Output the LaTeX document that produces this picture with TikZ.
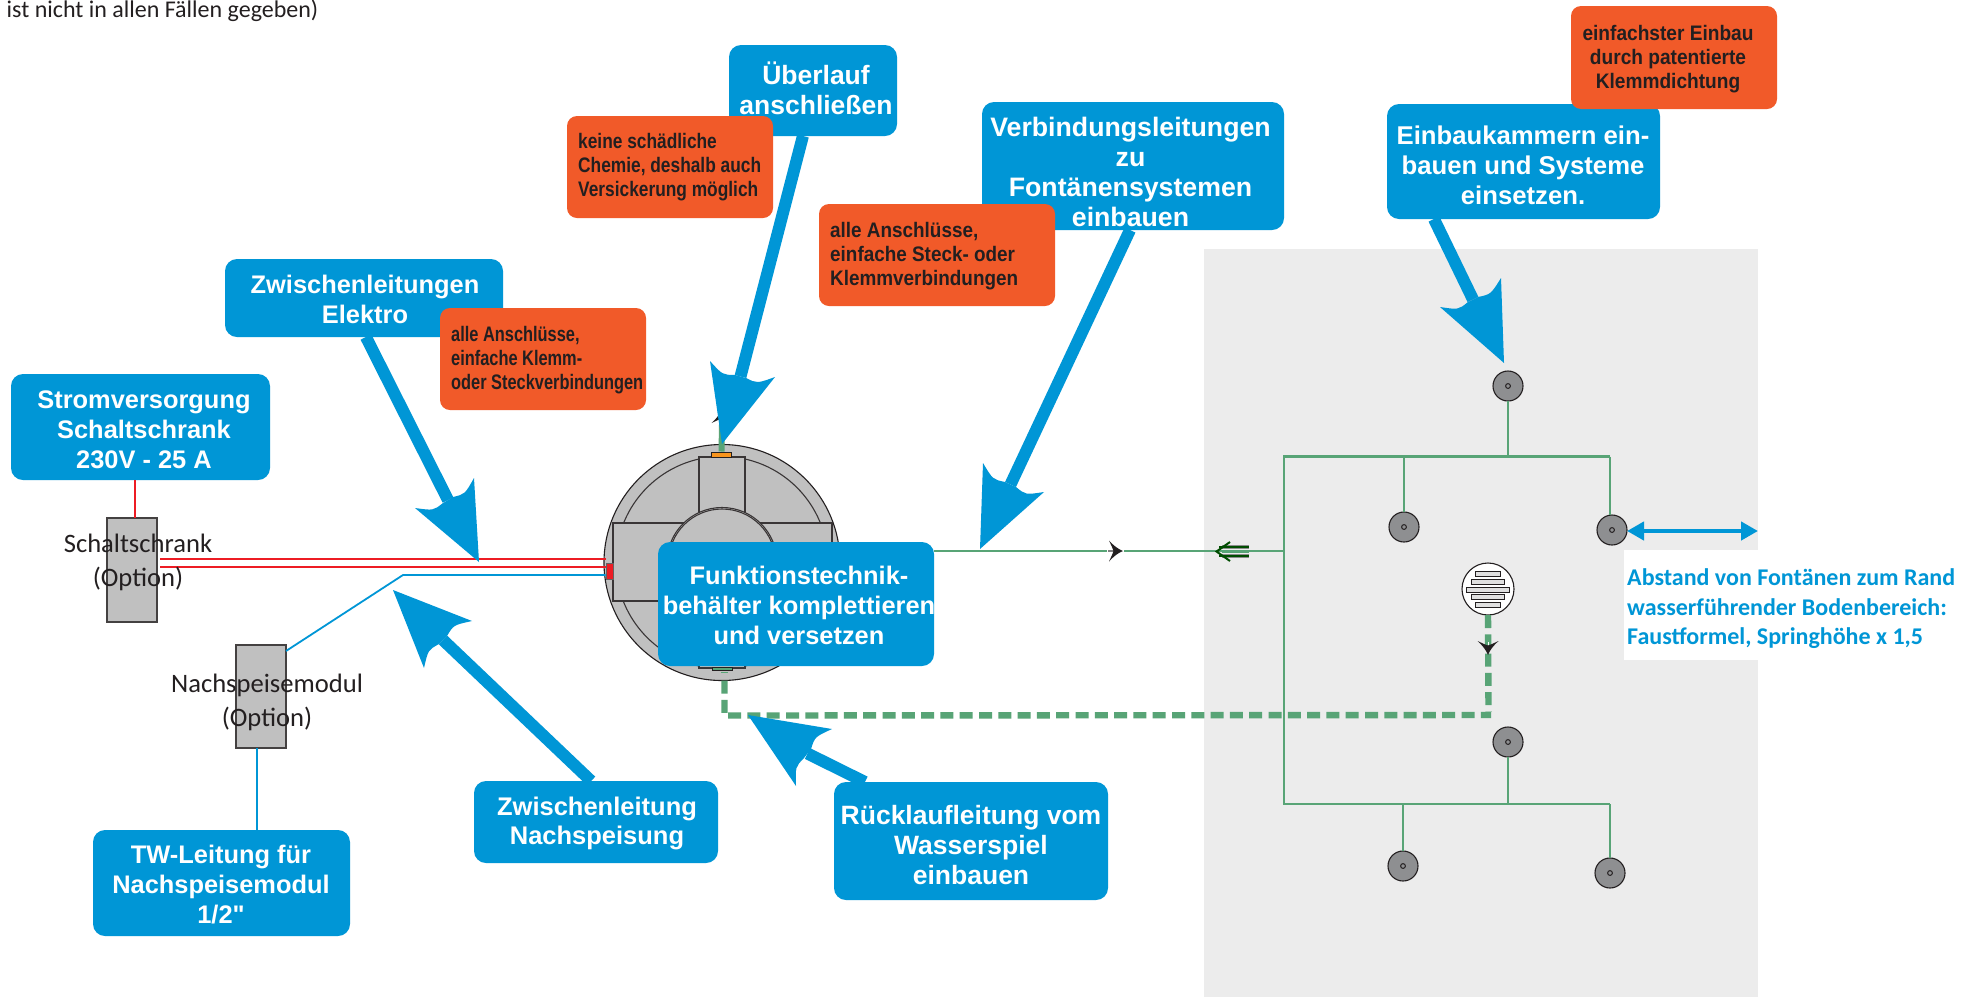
\documentclass[tikz,border=0pt]{standalone}
\usepackage{fontspec}
\usetikzlibrary{calc,arrows.meta}
\setmainfont{Liberation Sans}
\newfontfamily\plainsans{Liberation Sans}
\newfontfamily\ofa{Liberation Sans}[FakeStretch=0.825]
\newfontfamily\ofb{Liberation Sans}[FakeStretch=0.90]
\newfontfamily\ofc{Liberation Sans}[FakeStretch=0.91]
\newfontfamily\ofd{Liberation Sans}[FakeStretch=0.78]
\newfontfamily\calib{Carlito}
\definecolor{ablue}{HTML}{0096D6}
\definecolor{aorange}{HTML}{F15A29}
\definecolor{agreen}{HTML}{58A476}
\definecolor{apanel}{HTML}{ECECEC}
\definecolor{agray}{HTML}{C0C0C0}
\definecolor{afount}{HTML}{8E8F91}
\definecolor{adark}{HTML}{231F20}
\definecolor{ared}{HTML}{ED1C24}
\definecolor{aoran}{HTML}{F7941D}
\tikzset{
  spanbox/.style n args={4}{at={({(#1+#3)/2},{(#2+#4)/2})},minimum width={(#3-#1)*1pt},minimum height={(#4-#2)*1pt}},
  bluebox/.style={fill=ablue,rounded corners=12pt,inner sep=0pt,outer sep=0pt},
  orangebox/.style={fill=aorange,rounded corners=10pt,inner sep=0pt,outer sep=0pt},
  bluetext/.style={text=white,font=\bfseries\fontsize{25.4}{30}\selectfont,align=center,inner sep=0pt},
  orangetext/.style={text=adark,align=left,inner sep=0pt,anchor=west},
  plaintext/.style={text=adark,font=\calib\fontsize{26.6}{33.8}\selectfont,align=center,inner sep=0pt},
  modulebox/.style={fill=agray,draw=adark!85,line width=1.2pt,inner sep=0pt,outer sep=0pt},
  fountain/.style={circle,fill=afount,draw=adark,line width=1.1pt,minimum size=30pt,inner sep=0pt,outer sep=0pt},
  pipe/.style={draw=agreen,line width=2.9pt},
  returnpipe/.style={draw=agreen,line width=6.4pt,dash pattern=on 13pt off 6.3pt},
  redline/.style={draw=ared,line width=1.8pt},
  blueline/.style={draw=ablue,line width=1.8pt},
  shaft/.style={draw=ablue,line width=12pt},
  tankline/.style={draw=adark!90,line width=1.1pt},
}
\newcommand{\ofont}[1]{#1\bfseries\fontsize{21}{24}\selectfont}
\newcommand{\bigarrow}[7]{%
  \coordinate (#1-n1) at #3;
  \coordinate (#1-w1) at #4;
  \coordinate (#1-tip) at #5;
  \coordinate (#1-w2) at #6;
  \coordinate (#1-n2) at #7;
  \coordinate (#1-m1) at ($(#1-w1)!.5!(#1-n1)$);
  \coordinate (#1-m2) at ($(#1-w2)!.5!(#1-n2)$);
  \coordinate (#1-c1) at ($(#1-m1)!.09!(#1-tip)$);
  \coordinate (#1-c2) at ($(#1-m2)!.09!(#1-tip)$);
  \draw[shaft] #2 -- ($(#1-n1)!.5!(#1-n2)$);
  \fill[ablue] (#1-w1) -- (#1-tip) -- (#1-w2) .. controls (#1-c2) .. (#1-n2) -- (#1-n1) .. controls (#1-c1) .. (#1-w1) -- cycle;
}
\newcommand{\chevron}[3]{%
  \begin{scope}[shift={(#1,#2)},rotate=#3]
    \fill[adark] (-7,-10.5) .. controls (-2,-5) and (2,-2) .. (7,0) .. controls (2,2) and (-2,5) .. (-7,10.5) .. controls (-4,4) and (-3,2) .. (-2.5,0) .. controls (-3,-2) and (-4,-4) .. (-7,-10.5) -- cycle;
  \end{scope}
}
\begin{document}
\begin{tikzpicture}[x=1pt,y=-1pt]
\useasboundingbox (0,0) rectangle (1972,997);
\fill[white] (0,0) rectangle (1972,997);
% panel
\fill[apanel] (1204,249) rectangle (1758,997);
\fill[white] (1624,550) rectangle (1758,660);

% named nodes for modules
\node[modulebox,spanbox={107}{518}{157}{622}] (schalt) {};
\node[modulebox,spanbox={236}{645}{286}{748}] (nach) {};

% boxes needed for connectors
\node[bluebox,spanbox={11}{374}{270}{480}] (strom) {};
\node[bluebox,spanbox={93}{830}{350}{936}] (tw) {};

% tank
\node[circle,fill=agray,draw=adark,line width=1.1pt,minimum size=236pt,inner sep=0pt,outer sep=0pt] (tank) at (722,562.5) {};
\draw[tankline] (tank.center) circle[radius=106];
\draw[tankline,fill=agray] (699,457) rectangle (745,668);
\draw[tankline,fill=agray] (613,523) rectangle (832,601);
\fill[agray] (700,458) rectangle (744,667);
\draw[tankline,fill=agray] (tank.center) circle[radius=55];
\draw[tankline] (tank.center) circle[radius=53.5];
\node[fill=aoran,draw=adark,line width=1pt,inner sep=0pt,minimum width=20pt,minimum height=5pt] (oport) at (721.5,454.5) {};
\node[fill=agreen,draw=adark,line width=1pt,inner sep=0pt,minimum width=20pt,minimum height=3pt] (gport) at (722,668.5) {};
\draw[agreen,line width=1pt] (721,672) -- (728,672);
\node[fill=ared,draw=adark!70,line width=1pt,inner sep=0pt,minimum width=7pt,minimum height=16pt] (rport) at (609.5,571) {};

% electrics
\coordinate (ra) at (160,559); \coordinate (rb) at (160,567);
\coordinate (rae) at (606,559); \coordinate (rbe) at (606,567);
\draw[redline] (ra) -- (rae);
\draw[redline] (rb) -- (rbe);
\coordinate (rv1) at ($(schalt.north)+(3,0)$);
\draw[redline] (rv1) -- (rv1 |- strom.south);
\coordinate (bk) at (403,575);
\coordinate (nd) at ($(nach.north east)+(0,6)$);
\draw[blueline] (nd) -- (bk) -- (bk -| rport.west);
\coordinate (bv1) at ($(nach.south)+(-4,0)$);
\draw[blueline] (bv1) -- (bv1 |- tw.north);

% fountains
\node[fountain] (f1) at (1508,386) {};
\node[fountain] (f2) at (1404,527) {};
\node[fountain] (f3) at (1612,530) {};
\node[fountain] (f4) at (1508,742) {};
\node[fountain] (f5) at (1403,866) {};
\node[fountain] (f6) at (1610,873) {};
\foreach \f in {f1,f2,f3,f4,f5,f6} \draw[adark,line width=1pt] (\f.center) circle[radius=2.4];

% pipe net
\coordinate (jtop) at (1284,456.5);
\coordinate (jmid) at (1284,551);
\coordinate (jbot) at (1284,804);
\coordinate (trb) at (1610,804);
\coordinate (trt) at (1610,456.5);
\draw[pipe] (trt) -- (jtop) -- (jbot) -- (trb);
\draw[pipe] (f1.south) -- (f1.south |- jtop);
\draw[pipe] (f2.north) -- (f2.north |- jtop);
\draw[pipe] (trt) -- (f3.north -| trt);
\draw[pipe] (f4.south) -- (f4.south |- jbot);
\draw[pipe] (f5.north) -- (f5.north |- jbot);
\draw[pipe] (trb) -- (f6.north);

% return pipe and drain
\node[circle,fill=white,draw=adark,line width=1.1pt,minimum size=52pt,inner sep=0pt,outer sep=0pt] (drain) at (1488,589) {};
\foreach \yy/\ww in {574/25,582/33,589.5/43,597/33,605/25}
  \draw[fill=black!12,draw=adark,line width=.8pt] ({1488-\ww/2},{\yy-2.5}) rectangle ({1488+\ww/2},{\yy+2.5});
\coordinate (rc1) at ($(tank.south)+(2.5,35)$);
\coordinate (rc2) at (1491,715);
\draw[returnpipe] ($(tank.south)+(2.5,0)$) -- (rc1) -- (rc2);
\coordinate (rc3) at (1488.5,712);
\draw[returnpipe] (drain.south) -- (rc3);
\draw[white,line width=.8pt] (1488,642) -- (1488,652);
\chevron{1488}{648}{-90}

% overflow stub
\coordinate (ovt) at (722,424);
\draw[agreen,line width=6pt] (ovt) -- (oport.north);
\chevron{722}{416}{90}

% main pipe from the tank box
\coordinate (mainstart) at (934,551);
\draw[pipe] (mainstart) -- (jmid);
\draw[white,line width=3.8pt] (1107,551) -- (1124,551);
\draw[gray,line width=1.2pt] (1108,551) -- (1120,551);
\chevron{1116}{551}{0}
% double flow arrow
\draw[black!45,line width=3.6pt] (1222,547) -- (1249,547);
\draw[black!45,line width=3.6pt] (1222,556) -- (1249,556);
\draw[apanel,line width=1pt] (1222,551.5) -- (1249,551.5);
\draw[agreen,line width=2.4pt] (1222,551.5) -- (1249,551.5);
\draw[black!70!green,line width=2pt] (1219,547) -- (1249,547);
\draw[black!70!green,line width=2pt] (1219,556) -- (1249,556);
\draw[black!70!green,line width=2pt] (1230,542) -- (1216.5,551.5) -- (1230,561);

% distance arrow
\coordinate (edge) at (1758,531);
\draw[ablue,line width=4.5pt,{Triangle[length=17pt,width=18pt]}-{Triangle[length=17pt,width=18pt]}] (f3.east |- edge) -- (edge);

% blue boxes
\node[bluebox,spanbox={729}{45}{897}{136}] (ueb) {};
\node[bluebox,spanbox={982}{102}{1284}{230}] (verb) {};
\node[bluebox,spanbox={1387}{104}{1660}{219}] (einb) {};
\node[bluebox,spanbox={225}{259}{503}{337}] (zwel) {};
\node[bluebox,spanbox={658}{542}{934}{666}] (fkt) {};
\node[bluebox,spanbox={474}{781}{718}{863}] (zwna) {};
\node[bluebox,spanbox={834}{782}{1108}{900}] (rueck) {};

% orange boxes
\node[orangebox,spanbox={567}{116}{773}{218}] (oa) {};
\node[orangebox,spanbox={819}{204}{1055}{306}] (ob) {};
\node[orangebox,spanbox={1571}{6}{1777}{109}] (oc) {};
\node[orangebox,spanbox={440}{308}{646}{410}] (od) {};

% big arrows
\bigarrow{aa}{($(ueb.south west)!.44!(ueb.south east)$)}{(735,375)}{(710,361)}{(722,444)}{(775,377)}{(746,378)}
\bigarrow{ab}{($(verb.south west)!.49!(verb.south east)$)}{(1005,482)}{(983,463)}{(980,549)}{(1044,492)}{(1016,487)}
\bigarrow{ac}{($(einb.south west)!.172!(einb.south east)$)}{(1478,297)}{(1501,278)}{(1504,363)}{(1440,307)}{(1468,302)}
\bigarrow{ad}{($(zwel.south west)!.507!(zwel.south east)$)}{(453,497)}{(474,478)}{(479,562)}{(415,508)}{(443,503)}
\bigarrow{ae}{($(zwna.north west)!.48!(zwna.north east)$)}{(447,636)}{(472,621)}{(393,590)}{(424,668)}{(439,644)}
\bigarrow{af}{($(rueck.north west)!.113!(rueck.north east)$)}{(811,749)}{(832,729)}{(748,715)}{(796,786)}{(804,758)}

% texts
\node[text=adark,font=\calib\fontsize{24}{28}\selectfont,anchor=west,inner sep=0pt] (top) at (6.5,10.5) {ist nicht in allen Fällen gegeben)};
\node[bluetext,font=\bfseries\fontsize{26.5}{30}\selectfont] (t-ueb) at (816,88) {Überlauf\\anschließen};
\node[bluetext,font=\bfseries\fontsize{26.7}{30}\selectfont] (t-verb) at (1130.5,172) {Verbindungsleitungen\\zu\\Fontänensystemen\\einbauen};
\node[bluetext,font=\bfseries\fontsize{25.7}{30}\selectfont] (t-einb) at (1523,165) {Einbaukammern ein-\\bauen und Systeme\\einsetzen.};
\node[bluetext] (t-zwel) at (365,299) {Zwischenleitungen\\Elektro};
\node[bluetext] (t-strom) at (144,430) {Stromversorgung\\Schaltschrank\\230V - 25 A};
\node[bluetext] (t-fkt) at (799,605) {Funktionstechnik-\\behälter komplettieren\\und versetzen};
\node[bluetext,font=\bfseries\fontsize{25.5}{29}\selectfont] (t-zwna) at (597,823) {Zwischenleitung\\Nachspeisung};
\node[bluetext,font=\bfseries\fontsize{26.5}{30}\selectfont] (t-rueck) at (971,845) {Rücklaufleitung vom\\Wasserspiel\\einbauen};
\node[bluetext] (t-tw) at (221,885) {TW-Leitung für\\Nachspeisemodul\\{\plainsans 1/2"}};
\node[orangetext,font=\ofont\ofa] (t-oa) at (578,167.5) {keine schädliche\\Chemie, deshalb auch\\Versickerung möglich};
\node[orangetext,font=\ofont\ofb] (t-ob) at (830,256) {alle Anschlüsse,\\einfache Steck- oder\\Klemmverbindungen};
\node[orangetext,font=\ofont\ofc,align=center,anchor=center] (t-oc) at (1668,59.5) {einfachster Einbau\\durch patentierte\\Klemmdichtung};
\node[orangetext,font=\ofont\ofd] (t-od) at (451,360) {alle Anschlüsse,\\einfache Klemm-\\oder Steckverbindungen};
\node[plaintext] (t-schalt) at (138,562) {Schaltschrank\\(Option)};
\node[plaintext] (t-nach) at (267,702.5) {Nachspeisemodul\\(Option)};
\node[text=ablue,font=\calib\bfseries\fontsize{24}{29.5}\selectfont,align=left,anchor=west,inner sep=0pt] (t-abst) at (1627,609) {Abstand von Fontänen zum Rand\\wasserführender Bodenbereich:\\Faustformel, Springhöhe x 1,5};
\end{tikzpicture}
\end{document}
